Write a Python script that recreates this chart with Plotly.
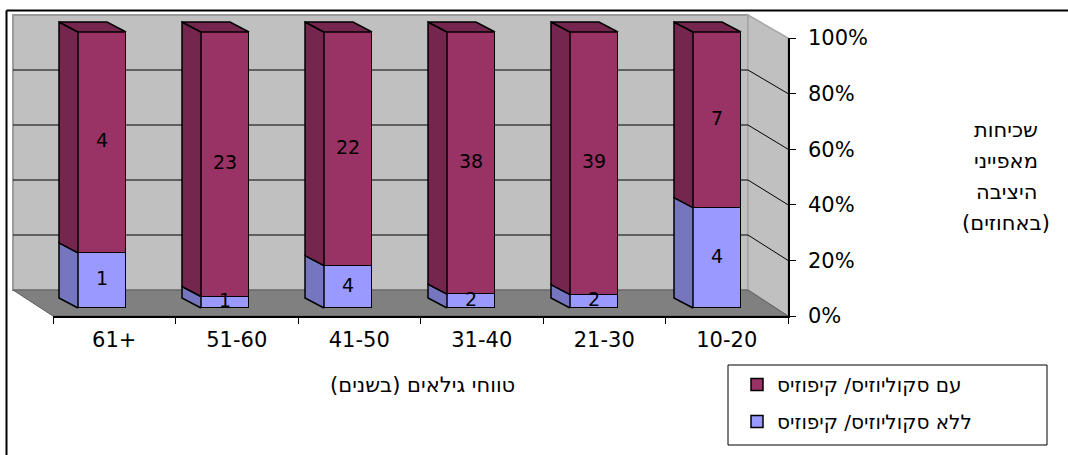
import plotly.graph_objects as go

# ---- data -------------------------------------------------------------
age_groups = ["61+", "51-60", "41-50", "31-40", "21-30", "10-20"]
with_condition = [4, 23, 22, 38, 39, 7]
without_condition = [1, 1, 4, 2, 2, 4]
name_without = "ללא סקוליוזיס/ קיפוזיס"
name_with = "עם סקוליוזיס/ קיפוזיס"
y_ticks = [0, 20, 40, 60, 80, 100]
x_title = "טווחי גילאים (בשנים)"
y_title_lines = ["שכיחות", "מאפייני", "היציבה", "(באחוזים)"]

# ---- styling / geometry ----------------------------------------------
W, H = 1068, 455
FONT = "DejaVu Sans, Arial, sans-serif"
C_WITH, C_WITH_SIDE = "#993366", "#74264F"
C_WITHOUT, C_WITHOUT_SIDE = "#9999FF", "#7676C0"
C_WALL, C_FLOOR = "#C0C0C0", "#808080"

CAT_PX = 123.0        # distance between neighbouring columns
FIRST_COL_PX = 102.0  # centre of the first column's front face
ZERO_PX, PCT_PX = 308.0, 2.76   # front-face baseline and pixels per percent
BAR_PX = 48.0
DEPTH_PX = (-19.0, -10.0)       # column depth offset (left / up)

# 3-D box: back wall, right wall and floor corners
BACK_L, BACK_R, BACK_T, BACK_B = 13, 748, 15, 290
FRONT_L, FRONT_R, FRONT_T, FRONT_B = 53, 788, 38, 316


def ux(px):
    return (px - FIRST_COL_PX) / CAT_PX


def uy(py):
    return (ZERO_PX - py) / PCT_PX


def path(points):
    pts = [f"{ux(px)},{uy(py)}" for px, py in points]
    return "M" + " L".join(pts) + " Z"


positions = list(range(len(age_groups)))
totals = [a + b for a, b in zip(with_condition, without_condition)]
pct_without = [b / t * 100 for b, t in zip(without_condition, totals)]
pct_with = [a / t * 100 for a, t in zip(with_condition, totals)]

bar_w = BAR_PX / CAT_PX
ddx, ddy = DEPTH_PX[0] / CAT_PX, -DEPTH_PX[1] / PCT_PX

fig = go.Figure()

# front faces of the stacked columns
fig.add_trace(go.Bar(
    x=positions, y=pct_without, width=bar_w, name=name_without,
    marker=dict(color=C_WITHOUT, line=dict(color="black", width=1.5)),
    legendgroup="without", legendrank=2, hoverinfo="skip"))
fig.add_trace(go.Bar(
    x=positions, y=pct_with, width=bar_w, name=name_with,
    marker=dict(color=C_WITH, line=dict(color="black", width=1.5)),
    legendgroup="with", legendrank=1, hoverinfo="skip"))


def side_faces(bottoms, tops):
    xs, ys = [], []
    for p, y0, y1 in zip(positions, bottoms, tops):
        xl = p - bar_w / 2
        xs += [xl, xl, xl + ddx, xl + ddx, xl, None]
        ys += [y0, y1, y1 + ddy, y0 + ddy, y0, None]
    return xs, ys


top_of_without = pct_without
top_of_with = [a + b for a, b in zip(pct_without, pct_with)]

for bottoms, tops, col in [([0] * len(positions), top_of_without, C_WITHOUT_SIDE),
                           (top_of_without, top_of_with, C_WITH_SIDE)]:
    xs, ys = side_faces(bottoms, tops)
    fig.add_trace(go.Scatter(x=xs, y=ys, mode="lines", fill="toself",
                             fillcolor=col, line=dict(color="black", width=1.5),
                             showlegend=False, hoverinfo="skip"))

# top faces
tx, ty = [], []
for p, t in zip(positions, top_of_with):
    xl, xr = p - bar_w / 2, p + bar_w / 2
    tx += [xl, xr, xr + ddx, xl + ddx, xl, None]
    ty += [t, t, t + ddy, t + ddy, t, None]
fig.add_trace(go.Scatter(x=tx, y=ty, mode="lines", fill="toself",
                         fillcolor=C_WITH_SIDE, line=dict(color="black", width=1.5),
                         showlegend=False, hoverinfo="skip"))

# value labels in the middle of each segment
lab_x = positions + positions
lab_y = [v / 2 for v in pct_without] + [b + v / 2 for b, v in zip(pct_without, pct_with)]
lab_t = [str(v) for v in without_condition] + [str(v) for v in with_condition]
fig.add_trace(go.Scatter(x=lab_x, y=lab_y, text=lab_t, mode="text",
                         textfont=dict(family=FONT, size=19, color="black"),
                         showlegend=False, hoverinfo="skip"))

# front axes (category axis along the floor edge, percent axis on the right)
fig.add_trace(go.Scatter(x=age_groups, y=[None] * len(age_groups),
                         xaxis="x2", yaxis="y2", showlegend=False,
                         hoverinfo="skip"))

shapes = []
# back wall, right wall, floor
shapes.append(dict(type="path", layer="below", xref="x", yref="y",
                   path=path([(BACK_L, BACK_T), (BACK_R, BACK_T), (BACK_R, BACK_B), (BACK_L, BACK_B)]),
                   fillcolor=C_WALL, line=dict(color="#9A9A9A", width=2)))
shapes.append(dict(type="path", layer="below", xref="x", yref="y",
                   path=path([(BACK_R, BACK_T), (FRONT_R, FRONT_T), (FRONT_R, FRONT_B), (BACK_R, BACK_B)]),
                   fillcolor=C_WALL, line=dict(color="#A8A8A8", width=1.5)))
shapes.append(dict(type="path", layer="below", xref="x", yref="y",
                   path=path([(BACK_L, BACK_B), (BACK_R, BACK_B), (FRONT_R, FRONT_B), (FRONT_L, FRONT_B)]),
                   fillcolor=C_FLOOR, line=dict(color="#5E5E5E", width=1)))
# gridlines on both walls
for t in y_ticks[1:-1]:
    f = t / 100
    yb = BACK_B - (BACK_B - BACK_T) * f
    yf = FRONT_B - (FRONT_B - FRONT_T) * f
    shapes.append(dict(type="line", layer="below", xref="x", yref="y",
                       x0=ux(BACK_L), x1=ux(BACK_R), y0=uy(yb), y1=uy(yb),
                       line=dict(color="black", width=1)))
    shapes.append(dict(type="line", layer="below", xref="x", yref="y",
                       x0=ux(BACK_R), x1=ux(FRONT_R), y0=uy(yb), y1=uy(yf),
                       line=dict(color="black", width=1)))
# chart frame
shapes.append(dict(type="line", xref="paper", yref="paper",
                   x0=6.5 / W, x1=6.5 / W, y0=0, y1=1 - 10.5 / H,
                   line=dict(color="black", width=2)))
shapes.append(dict(type="line", xref="paper", yref="paper",
                   x0=6.5 / W, x1=1, y0=1 - 10.5 / H, y1=1 - 10.5 / H,
                   line=dict(color="black", width=2)))
# legend frame
shapes.append(dict(type="rect", xref="paper", yref="paper",
                   x0=728 / W, x1=1047 / W, y0=1 - 445 / H, y1=1 - 365 / H,
                   line=dict(color="black", width=1), fillcolor="rgba(0,0,0,0)"))

annotations = [dict(text=x_title + "\u200f", xref="paper", yref="paper",
                    x=422 / W, y=1 - 385 / H, xanchor="center", yanchor="middle",
                    showarrow=False,
                    font=dict(family=FONT, size=21, color="black"))]
for i, line in enumerate(y_title_lines):
    annotations.append(dict(text=line, xref="paper", yref="paper",
                            x=1006 / W, y=1 - (130 + 31 * i) / H,
                            xanchor="center", yanchor="middle", showarrow=False,
                            font=dict(family=FONT, size=21, color="black")))

fig.update_layout(
    width=W, height=H, autosize=False,
    margin=dict(l=0, r=0, t=0, b=0, pad=0, autoexpand=False),
    paper_bgcolor="white", plot_bgcolor="rgba(0,0,0,0)",
    barmode="stack", bargap=0,
    font=dict(family=FONT, color="black"),
    xaxis=dict(domain=[0, 1], range=[ux(0), ux(W)], visible=False, fixedrange=True),
    yaxis=dict(domain=[0, 1], range=[uy(H), uy(0)], visible=False, fixedrange=True),
    xaxis2=dict(domain=[FRONT_L / W, FRONT_R / W], anchor="y2", type="category",
                categoryorder="array", categoryarray=age_groups, range=[-0.5, len(age_groups) - 0.5],
                showline=True, linecolor="black", linewidth=1.5, showgrid=False, zeroline=False,
                ticks="outside", tickson="boundaries", ticklen=6, tickcolor="black", tickwidth=1,
                tickfont=dict(family=FONT, size=21, color="black"), ticklabelstandoff=4,
                fixedrange=True, automargin=False),
    yaxis2=dict(domain=[1 - FRONT_B / H, 1 - FRONT_T / H], anchor="x2", side="right",
                range=[0, 100], tickvals=y_ticks, ticktext=[f"{t}%" for t in y_ticks],
                showline=True, linecolor="black", linewidth=1.5, showgrid=False, zeroline=False,
                ticks="outside", ticklen=6, tickcolor="black", tickwidth=1,
                tickfont=dict(family=FONT, size=21, color="black"), ticklabelstandoff=8,
                fixedrange=True, automargin=False),
    legend=dict(x=737 / W, y=1 - 365 / H, xanchor="left", yanchor="top",
                bgcolor="rgba(0,0,0,0)", borderwidth=0,
                traceorder="grouped", tracegroupgap=8,
                font=dict(family=FONT, size=20, color="black")),
    shapes=shapes, annotations=annotations,
)

fig.write_html("out.html")
